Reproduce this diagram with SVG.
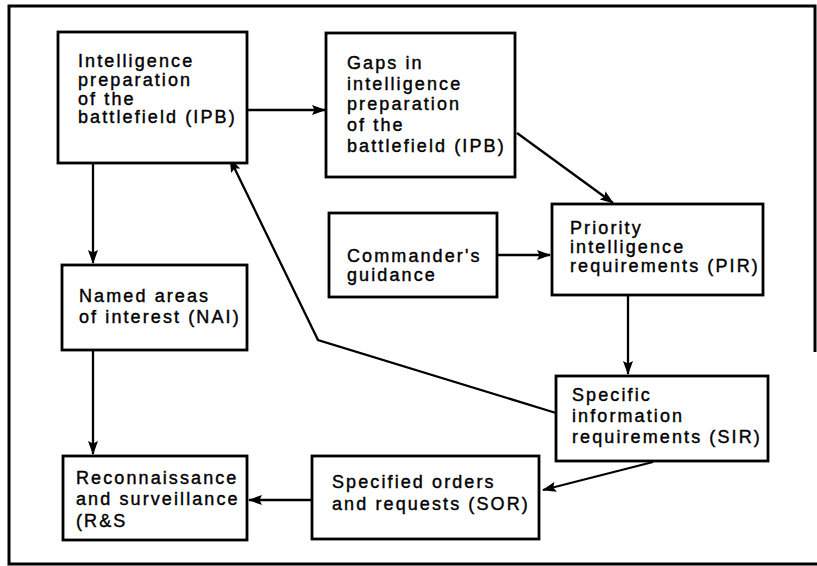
<svg xmlns="http://www.w3.org/2000/svg" width="817" height="566" viewBox="0 0 817 566">
<style>
.box{fill:#fff;stroke:#000;stroke-width:2.8}
.t{font-family:"Liberation Sans",Arial,sans-serif;font-size:18px;letter-spacing:2.1px;fill:#000;stroke:#000;stroke-width:0.4}
.c{fill:none;stroke:#000;stroke-width:2.3}
.frame{fill:none;stroke:#000;stroke-width:3}
</style>
<defs>
<marker id="ah" viewBox="0 0 14 10" refX="13" refY="5" markerWidth="14" markerHeight="10" markerUnits="userSpaceOnUse" orient="auto">
<path d="M0,0 L14,5 L0,10 L2.5,5 Z" fill="#000"/>
</marker>
</defs>
<rect width="817" height="566" fill="#fff"/>
<path class="frame" d="M815,352 L815,6 L9,6 L9,564 L817,564"/>
<g id="connectors">
<line class="c" x1="247" y1="110" x2="325" y2="110" marker-end="url(#ah)"/>
<line class="c" x1="93" y1="163" x2="93" y2="263" marker-end="url(#ah)"/>
<line class="c" x1="93" y1="350" x2="93" y2="454" marker-end="url(#ah)"/>
<line class="c" x1="517" y1="133" x2="613" y2="203" marker-end="url(#ah)"/>
<line class="c" x1="497" y1="255" x2="550" y2="255" marker-end="url(#ah)"/>
<line class="c" x1="628" y1="295" x2="628" y2="374" marker-end="url(#ah)"/>
<polyline class="c" points="556,413 318,340 230,159" marker-end="url(#ah)"/>
<line class="c" x1="653" y1="462" x2="543" y2="490" marker-end="url(#ah)"/>
<line class="c" x1="312" y1="500" x2="249" y2="500" marker-end="url(#ah)"/>
</g>
<g id="ipb">
<rect class="box" x="58" y="32" width="189" height="131"/>
<text class="t" x="78" y="67">Intelligence</text>
<text class="t" x="78" y="86">preparation</text>
<text class="t" x="78" y="104.5">of the</text>
<text class="t" x="78" y="123">battlefield (IPB)</text>
</g>
<g id="gaps">
<rect class="box" x="326" y="33" width="189" height="144"/>
<text class="t" x="347" y="69">Gaps in</text>
<text class="t" x="347" y="89.5">intelligence</text>
<text class="t" x="347" y="110">preparation</text>
<text class="t" x="347" y="131">of the</text>
<text class="t" x="347" y="151.5">battlefield (IPB)</text>
</g>
<g id="commander">
<rect class="box" x="329" y="213" width="168" height="84"/>
<text class="t" x="347" y="262">Commander's</text>
<text class="t" x="347" y="281">guidance</text>
</g>
<g id="pir">
<rect class="box" x="552" y="204" width="211" height="91"/>
<text class="t" x="570" y="234">Priority</text>
<text class="t" x="570" y="253">intelligence</text>
<text class="t" x="570" y="272">requirements (PIR)</text>
</g>
<g id="nai">
<rect class="box" x="62" y="265" width="185" height="85"/>
<text class="t" x="79" y="302">Named areas</text>
<text class="t" x="79" y="323">of interest (NAI)</text>
</g>
<g id="sir">
<rect class="box" x="556" y="376" width="212" height="85"/>
<text class="t" x="572" y="401">Specific</text>
<text class="t" x="572" y="422">information</text>
<text class="t" x="572" y="443">requirements (SIR)</text>
</g>
<g id="sor">
<rect class="box" x="312" y="456" width="227" height="83"/>
<text class="t" x="332" y="488">Specified orders</text>
<text class="t" x="332" y="510">and requests (SOR)</text>
</g>
<g id="rs">
<rect class="box" x="63" y="456" width="184" height="84"/>
<text class="t" x="76" y="484">Reconnaissance</text>
<text class="t" x="76" y="505">and surveillance</text>
<text class="t" x="76" y="527">(R&amp;S</text>
</g>
</svg>
